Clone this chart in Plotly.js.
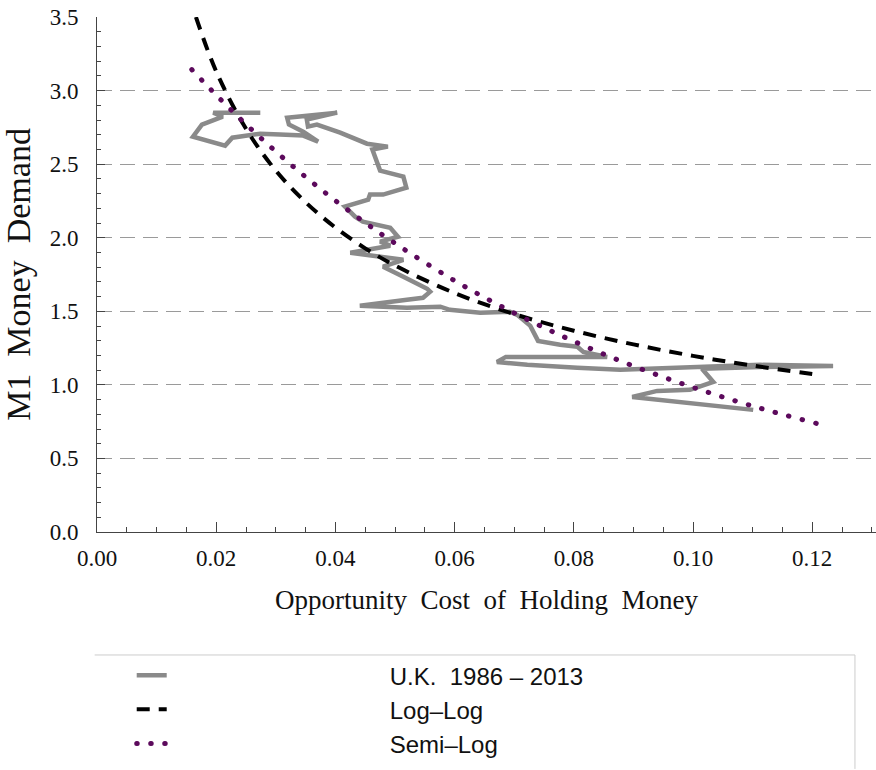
<!DOCTYPE html>
<html><head><meta charset="utf-8">
<script src="https://cdn.plot.ly/plotly-3.0.1.min.js"></script>
<style>
html,body{margin:0;padding:0;background:#fff;}
#chart{width:876px;height:770px;}
.scatterlayer .trace:nth-of-type(3) path.js-line{stroke-linecap:round;}
.legend .traces:nth-of-type(3) path.js-line{stroke-linecap:round;}
.legend .legendlines path{d:path("M7,0h30");}
</style></head>
<body><div id="chart"></div>
<script>
// U.K. 1986 - 2013 (opportunity cost, M1 money demand)
const ukOpportunityCost = [0.1101,0.0898,0.0940,0.0995,0.1034,0.1015,0.1113,0.1235,0.1113,0.1012,0.0945,0.0878,0.0806,0.0722,0.0671,0.0686,0.0777,0.0856,0.0816,0.0806,0.0777,0.0740,0.0727,0.0705,0.0693,0.0643,0.0592,0.0576,0.0520,0.0441,0.0520,0.0547,0.0559,0.0554,0.0514,0.0480,0.0514,0.0425,0.0492,0.0475,0.0505,0.0492,0.0446,0.0433,0.0416,0.0455,0.0458,0.0480,0.0519,0.0514,0.0475,0.0462,0.0488,0.0453,0.0408,0.0369,0.0354,0.0352,0.0403,0.0319,0.0322,0.0346,0.0371,0.0346,0.0307,0.0274,0.0227,0.0215,0.0161,0.0176,0.0211,0.0195,0.0274];
const ukMoneyDemand = [0.830,0.918,0.959,0.966,1.020,1.109,1.122,1.129,1.136,1.122,1.109,1.102,1.116,1.136,1.156,1.190,1.190,1.190,1.224,1.259,1.272,1.299,1.401,1.476,1.497,1.490,1.510,1.531,1.524,1.537,1.578,1.592,1.633,1.653,1.735,1.803,1.850,1.898,1.946,1.973,2.007,2.068,2.109,2.143,2.211,2.259,2.293,2.293,2.340,2.415,2.456,2.599,2.619,2.639,2.714,2.769,2.755,2.803,2.850,2.816,2.769,2.721,2.653,2.694,2.701,2.707,2.680,2.626,2.687,2.769,2.823,2.850,2.850];

// Log-Log fitted curve
const logLogCost = [0.0166,0.020,0.025,0.030,0.035,0.040,0.045,0.050,0.060,0.070,0.080,0.090,0.100,0.110,0.121];
const logLogDemand = [3.50,3.13,2.74,2.456,2.241,2.069,1.928,1.811,1.624,1.481,1.368,1.275,1.197,1.131,1.068];

// Semi-Log fitted curve
const semiLogCost = [0.0159,0.020,0.025,0.030,0.035,0.040,0.045,0.050,0.060,0.070,0.080,0.090,0.100,0.110,0.121];
const semiLogDemand = [3.143,2.970,2.771,2.586,2.413,2.252,2.102,1.962,1.708,1.488,1.296,1.128,0.983,0.856,0.735];

const xTickVals = [0,0.02,0.04,0.06,0.08,0.10,0.12];
const xTickText = ['0.00','0.02','0.04','0.06','0.08','0.10','0.12'];
const yTickVals = [0,0.5,1.0,1.5,2.0,2.5,3.0,3.5];
const yTickText = ['0.0','0.5','1.0','1.5','2.0','2.5','3.0','3.5'];
const seriesNames = ['U.K.\u00a0\u00a01986 \u2013 2013','Log\u2013Log','Semi\u2013Log'];
const xTitle = 'Opportunity\u00a0\u00a0Cost\u00a0\u00a0of\u00a0\u00a0Holding\u00a0\u00a0Money';
const yTitle = 'M1\u00a0\u00a0Money\u00a0\u00a0Demand';

const serif = 'Liberation Serif, Times New Roman, serif';
const sans = 'Liberation Sans, Arial, sans-serif';

const traces = [
  {x: ukOpportunityCost, y: ukMoneyDemand, type:'scatter', mode:'lines', name: seriesNames[0],
   line:{color:'#8a8a8a', width:4.5}},
  {x: logLogCost, y: logLogDemand, type:'scatter', mode:'lines', name: seriesNames[1],
   line:{color:'#000000', width:4, dash:'13px,9px', shape:'spline'}},
  {x: semiLogCost, y: semiLogDemand, type:'scatter', mode:'lines', name: seriesNames[2],
   line:{color:'#5c0a5c', width:5, dash:'0.5px,13.5px', shape:'spline'}}
];

const axisColor = '#444';
const layout = {
  width:876, height:770,
  margin:{l:97, r:0, t:17, b:238, autoexpand:false},
  paper_bgcolor:'#ffffff', plot_bgcolor:'#ffffff',
  showlegend:true,
  legend:{x:0.042, xanchor:'left', y:-0.235, yanchor:'top', itemwidth:250,
          font:{family:sans, size:24, color:'#111'}, bgcolor:'rgba(0,0,0,0)', borderwidth:0,
          itemclick:false, itemdoubleclick:false},
  xaxis:{range:[0,0.1307], showline:true, linecolor:axisColor, linewidth:1,
         ticks:'inside', ticklen:10, tickwidth:1, tickcolor:axisColor,
         tickmode:'array', tickvals:xTickVals, ticktext:xTickText,
         tickfont:{family:serif, size:23, color:'#111'}, ticklabelstandoff:5,
         minor:{tickmode:'linear', tick0:0, dtick:0.005, ticks:'inside', ticklen:5, tickcolor:axisColor, showgrid:false},
         showgrid:false, zeroline:false, fixedrange:true,
         title:{text:xTitle, font:{family:serif, size:27, color:'#111'}, standoff:20}},
  yaxis:{range:[0,3.5], showline:true, linecolor:axisColor, linewidth:1,
         ticks:'inside', ticklen:8, tickwidth:1, tickcolor:axisColor,
         tickmode:'array', tickvals:yTickVals, ticktext:yTickText,
         tickfont:{family:serif, size:23, color:'#111'}, ticklabelstandoff:13,
         minor:{tickmode:'linear', tick0:0, dtick:0.1, ticks:'inside', ticklen:4, tickcolor:axisColor, showgrid:false},
         showgrid:true, gridcolor:'#9a9a9a', gridwidth:1, griddash:'15px,8px',
         zeroline:false, fixedrange:true,
         title:{text:yTitle, font:{family:serif, size:34, color:'#111'}, standoff:16}},
  shapes:[
    {type:'line', xref:'paper', yref:'paper', x0:-0.003, x1:0.973, y0:-0.2388, y1:-0.2388, line:{color:'#cccccc', width:1}},
    {type:'line', xref:'paper', yref:'paper', x0:0.973, x1:0.973, y0:-0.2388, y1:-0.46, line:{color:'#cccccc', width:1}}
  ]
};

Plotly.newPlot('chart', traces, layout, {staticPlot:true, displayModeBar:false});
</script>
</body></html>
